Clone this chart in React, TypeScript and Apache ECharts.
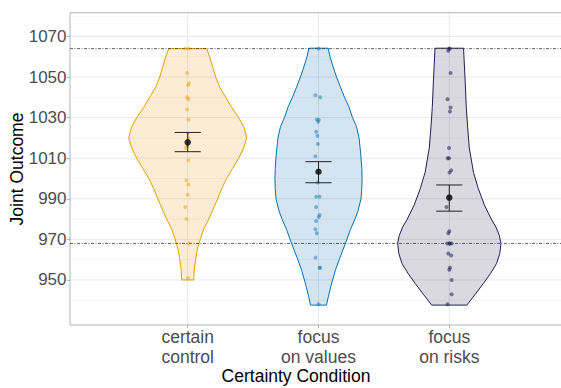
import React, { useEffect, useRef } from "react";
import * as echarts from "echarts";

// ---------- data ----------
const categories = ["certain\ncontrol", "focus\non values", "focus\non risks"];
const groupColors = ["#E69F00", "#0072B2", "#211F52"];
const groupFills = ["rgba(238,145,20,0.18)", "rgba(0,100,170,0.17)", "rgba(33,31,82,0.17)"];

const yLabelValues = [950, 970, 990, 1010, 1030, 1050, 1070];
const minorGridValues = [940, 960, 980, 1000, 1020, 1040, 1060, 1080];
const referenceLines = [1064, 968];

// violin outlines: [outcome, half width in category units]
const violinControl: [number, number][] = [
  [950, 0.046], [955, 0.05], [960, 0.061], [965, 0.073], [970, 0.096], [975, 0.122],
  [980, 0.161], [985, 0.195], [990, 0.229], [995, 0.26], [1000, 0.298], [1005, 0.344],
  [1010, 0.39], [1015, 0.428], [1020, 0.451], [1025, 0.432], [1030, 0.39], [1035, 0.336],
  [1040, 0.291], [1045, 0.245], [1050, 0.214], [1055, 0.191], [1060, 0.168], [1064, 0.145],
];
const violinValues: [number, number][] = [
  [937.6, 0.061], [942, 0.076], [948, 0.099], [955, 0.13], [961, 0.164], [968, 0.206],
  [975, 0.245], [980, 0.279], [984, 0.302], [990, 0.325], [995, 0.331], [1000, 0.333],
  [1005, 0.331], [1012, 0.323], [1020, 0.31], [1025.5, 0.291], [1030, 0.26], [1035.4, 0.232],
  [1040, 0.199], [1045, 0.168], [1050, 0.138], [1055, 0.112], [1060, 0.088], [1064.2, 0.074],
];
const violinRisks: [number, number][] = [
  [937.6, 0.134], [943, 0.199], [948.3, 0.261], [953, 0.313], [958, 0.361], [963, 0.386],
  [968, 0.395], [972, 0.382], [976, 0.357], [980, 0.321], [987, 0.268], [995, 0.222],
  [1003, 0.185], [1015, 0.153], [1025.5, 0.14], [1035, 0.13], [1048.5, 0.121], [1064.2, 0.109],
];

// individual observations: [outcome, horizontal jitter]
const pointsControl: [number, number][] = [
  [1064, -0.018], [1064, 0.01], [1052, -0.005], [1047, 0.01], [1046, 0.002], [1040, -0.005],
  [1039, 0.005], [1034, -0.005], [1029, 0.005], [1022, 0.002], [1020, 0.005], [1016, -0.005],
  [1015, -0.015], [1009, 0.005], [999, -0.01], [997, 0.005], [992, 0], [986, -0.018],
  [980, -0.01], [968, 0.01], [951, 0.002],
];
const pointsValues: [number, number][] = [
  [1064, 0], [1041, -0.023], [1040, 0.013], [1029, -0.013], [1029, 0.002], [1028, -0.002],
  [1023, -0.018], [1021, -0.008], [1017, -0.005], [1011, -0.023], [998, -0.005], [991, -0.018],
  [991, 0.008], [986, -0.018], [982, 0.008], [981, 0.002], [979, -0.018], [975, -0.023],
  [973, -0.013], [961, -0.023], [956, 0.008], [956, 0.013], [938, 0],
];
const pointsRisks: [number, number][] = [
  [1064, 0.005], [1064, -0.002], [1063, -0.008], [1052, 0.01], [1039, -0.013], [1035, 0.01],
  [1033, 0.005], [1015, -0.002], [1010, -0.013], [1010, -0.002], [1004, 0.015], [1003, 0.002],
  [986, -0.021], [974, 0], [973, -0.008], [968, -0.015], [968, 0], [968, 0.005], [968, 0.018],
  [963, -0.008], [962, 0.015], [956, 0.005], [955, 0], [950, 0.018], [943, 0.018], [938, -0.013],
];

const means = [1017.8, 1003.3, 990.6];
const ciLow = [1013.2, 997.9, 983.9];
const ciHigh = [1022.7, 1008.3, 996.8];

const violins = [violinControl, violinValues, violinRisks];
const pointSets = [pointsControl, pointsValues, pointsRisks];

const FONT = "'Liberation Sans', Arial, Helvetica, sans-serif";

export default function App() {
  const ref = useRef<HTMLDivElement>(null);

  useEffect(() => {
    if (!ref.current) return;
    document.body.style.margin = "0";
    document.body.style.overflow = "hidden";
    const chart = echarts.init(ref.current, undefined, { renderer: "svg" });

    const hLineSeries = (name: string, values: number[], style: any, z: number) => ({
      type: "custom",
      name,
      z,
      silent: true,
      data: values.map((v) => [1, v]),
      renderItem: (params: any, api: any) => {
        const cs = params.coordSys;
        const y = api.coord([1, api.value(1)])[1];
        return {
          type: "line",
          shape: { x1: cs.x, y1: y, x2: cs.x + cs.width, y2: y },
          style,
        };
      },
    });

    const option: any = {
      animation: false,
      textStyle: { fontFamily: FONT },
      grid: {
        left: 70,
        top: 12.7,
        width: 497,
        height: 312.3,
        outerBoundsMode: "none",
        containLabel: false,
        show: false,
      },
      xAxis: {
        type: "value",
        min: 0.1,
        max: 3.9,
        splitLine: { show: false },
        axisLine: { show: false },
        axisTick: {
          show: true,
          customValues: [1, 2, 3],
          length: 3,
          lineStyle: { color: "#B3B3B3" },
        },
        axisLabel: {
          customValues: [1, 2, 3],
          formatter: (v: number) => categories[Math.round(v) - 1] ?? "",
          fontSize: 17.5,
          color: "#4D4D4D",
          lineHeight: 20.3,
          margin: 2,
          fontFamily: FONT,
        },
      },
      yAxis: {
        type: "value",
        min: 927.8,
        max: 1081.7,
        splitLine: { show: false },
        axisLine: { show: false },
        axisTick: {
          show: true,
          customValues: yLabelValues,
          length: 3,
          lineStyle: { color: "#B3B3B3" },
        },
        axisLabel: {
          customValues: yLabelValues,
          formatter: (v: number) => String(Math.round(v)),
          fontSize: 17,
          color: "#4D4D4D",
          margin: 3.5,
          fontFamily: FONT,
        },
      },
      graphic: [
        {
          type: "text",
          x: 296,
          y: 376,
          style: {
            text: "Certainty Condition",
            fontSize: 17.5,
            fontFamily: FONT,
            fill: "#000",
            textAlign: "center",
            textVerticalAlign: "middle",
          },
        },
        {
          type: "text",
          x: 17,
          y: 169,
          rotation: Math.PI / 2,
          style: {
            text: "Joint Outcome",
            fontSize: 17.5,
            fontFamily: FONT,
            fill: "#000",
            textAlign: "center",
            textVerticalAlign: "middle",
          },
        },
      ],
      series: [
        hLineSeries("minor", minorGridValues, { stroke: "#F0F0F0", lineWidth: 0.6 }, 1),
        hLineSeries("major", yLabelValues, { stroke: "#E6E6E6", lineWidth: 0.9 }, 1),
        {
          type: "custom",
          name: "vgrid",
          z: 1,
          silent: true,
          data: categories.map((_, i) => [i + 1, 1000]),
          renderItem: (params: any, api: any) => {
            const cs = params.coordSys;
            const x = api.coord([api.value(0), 1000])[0];
            return {
              type: "line",
              shape: { x1: x, y1: cs.y, x2: x, y2: cs.y + cs.height },
              style: { stroke: "#E6E6E6", lineWidth: 0.9 },
            };
          },
        },
        {
          type: "custom",
          name: "frame",
          z: 1,
          silent: true,
          data: [[1, 1000]],
          renderItem: (params: any) => {
            const cs = params.coordSys;
            return {
              type: "polyline",
              shape: {
                points: [
                  [cs.x + cs.width + 20, cs.y],
                  [cs.x, cs.y],
                  [cs.x, cs.y + cs.height],
                  [cs.x + cs.width + 20, cs.y + cs.height],
                ],
              },
              style: { stroke: "#B3B3B3", lineWidth: 1, fill: "none" },
            };
          },
        },
        {
          type: "custom",
          name: "violins",
          z: 2,
          silent: true,
          data: categories.map((_, i) => [i + 1, means[i]]),
          renderItem: (params: any, api: any) => {
            const i = params.dataIndex;
            const c = i + 1;
            const prof = violins[i];
            const right = prof.map(([v, w]) => api.coord([c + w, v]));
            const left = prof
              .slice()
              .reverse()
              .map(([v, w]) => api.coord([c - w, v]));
            return {
              type: "polygon",
              shape: { points: right.concat(left) },
              style: { fill: groupFills[i], stroke: groupColors[i], lineWidth: 1 },
            };
          },
        },
        hLineSeries(
          "reference",
          referenceLines,
          { stroke: "#3A3A3A", lineWidth: 0.8, lineDash: [3, 1.5, 1, 1.5] },
          3
        ),
        ...pointSets.map((pts, i) => ({
          type: "scatter",
          name: "points" + i,
          z: 4,
          silent: true,
          symbolSize: 4,
          itemStyle: { color: groupColors[i], opacity: i === 2 ? 0.55 : 0.45 },
          data: pts.map(([v, o]) => [i + 1 + o, v]),
        })),
        {
          type: "custom",
          name: "errorbars",
          z: 5,
          silent: true,
          data: categories.map((_, i) => [i + 1, ciLow[i], ciHigh[i]]),
          renderItem: (params: any, api: any) => {
            const c = api.value(0);
            const lo = api.coord([c, api.value(1)]);
            const hi = api.coord([c, api.value(2)]);
            const l1 = api.coord([c - 0.1, api.value(1)]);
            const r1 = api.coord([c + 0.1, api.value(1)]);
            const l2 = api.coord([c - 0.1, api.value(2)]);
            const r2 = api.coord([c + 0.1, api.value(2)]);
            const st = { stroke: "#222", lineWidth: 1 };
            return {
              type: "group",
              children: [
                { type: "line", shape: { x1: lo[0], y1: lo[1], x2: hi[0], y2: hi[1] }, style: st },
                { type: "line", shape: { x1: l1[0], y1: l1[1], x2: r1[0], y2: r1[1] }, style: st },
                { type: "line", shape: { x1: l2[0], y1: l2[1], x2: r2[0], y2: r2[1] }, style: st },
              ],
            };
          },
        },
        {
          type: "scatter",
          name: "means",
          z: 6,
          silent: true,
          symbolSize: 6.5,
          itemStyle: { color: "#000" },
          data: means.map((m, i) => [i + 1, m]),
        },
      ],
    };

    chart.setOption(option);
    return () => chart.dispose();
  }, []);

  return (
    <div
      ref={ref}
      style={{ position: "fixed", left: 0, top: 0, width: 580, height: 388, background: "#fff" }}
    />
  );
}
